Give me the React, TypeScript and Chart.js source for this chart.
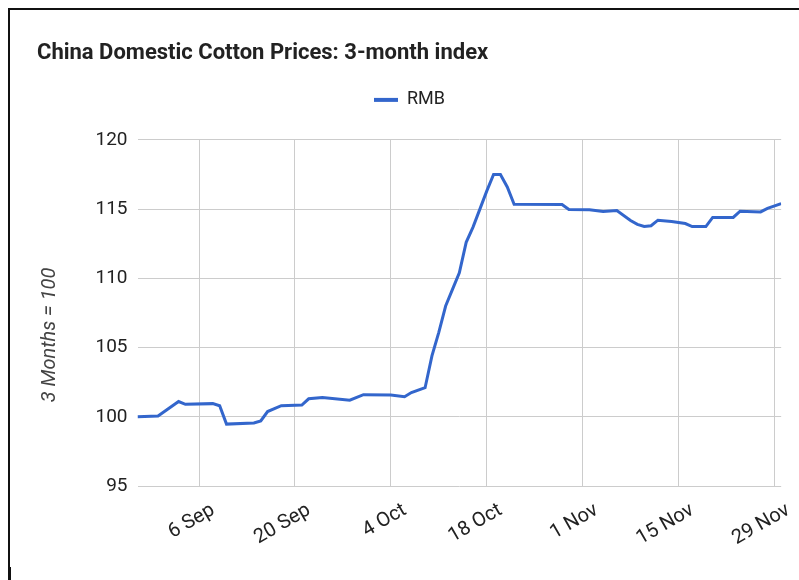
import React, { useEffect, useRef } from 'react';
import { Chart, registerables } from 'chart.js';

Chart.register(...registerables);

const TITLE = 'China Domestic Cotton Prices: 3-month index';
const SERIES_NAME = 'RMB';
const Y_TITLE = '3 Months = 100';

// days counted from 28 Aug
const dayIndex = [
  0, 3, 6, 7, 11, 12, 13, 17, 18, 19, 21, 24, 25, 27, 31, 33, 37, 39, 40, 42,
  43, 44, 45, 46, 47, 48, 49, 50, 51, 52, 53, 54, 55, 62, 63, 66, 68, 70, 72, 73,
  74, 75, 76, 78, 80, 81, 83, 84, 87, 88, 91, 92, 94,
];
const rmbIndex = [
  100.0, 100.05, 101.1, 100.9, 100.95, 100.8, 99.47, 99.55, 99.7, 100.38, 100.8, 100.85, 101.3, 101.4, 101.2, 101.6, 101.57, 101.45, 101.75, 102.1,
  104.4, 106.1, 108.0, 109.2, 110.4, 112.6, 113.7, 115.0, 116.3, 117.5, 117.5, 116.6, 115.35, 115.33, 114.97, 114.95, 114.83, 114.9, 114.18, 113.9,
  113.75, 113.8, 114.2, 114.1, 113.96, 113.74, 113.74, 114.4, 114.4, 114.85, 114.8, 115.05, 115.4,
];

const xMinDay = 0;
const xMaxDay = 94;
const tickDays = [9, 23, 37, 51, 65, 79, 93];
const tickLabels = ['6 Sep', '20 Sep', '4 Oct', '18 Oct', '1 Nov', '15 Nov', '29 Nov'];
const yTicks = [95, 100, 105, 110, 115, 120];

const FONT = 'Roboto';

export default function App() {
  const ref = useRef<HTMLCanvasElement>(null);

  useEffect(() => {
    if (!ref.current) return;
    const legendGap = {
      id: 'legendGap',
      beforeInit(chart: any) {
        const lg = chart.legend;
        if (lg) {
          const fit = lg.fit;
          lg.fit = function () {
            fit.call(this);
            this.height += 21;
          };
        }
      },
    };
    const yTitle = {
      id: 'yTitle',
      afterDraw(chart: any) {
        const ctx = chart.ctx;
        ctx.save();
        ctx.translate(40, 325);
        ctx.rotate(-Math.PI / 2);
        ctx.font = `italic 20px ${FONT}`;
        ctx.fillStyle = '#444444';
        ctx.textAlign = 'center';
        ctx.textBaseline = 'middle';
        ctx.fillText(Y_TITLE, 0, 0);
        ctx.restore();
      },
    };
    const chart = new Chart(ref.current, {
      type: 'line',
      data: {
        datasets: [
          {
            label: SERIES_NAME,
            data: dayIndex.map((d, i) => ({ x: d, y: rmbIndex[i] })),
            borderColor: '#3366cc',
            backgroundColor: '#3366cc',
            borderWidth: 3,
            pointRadius: 0,
            tension: 0,
          },
        ],
      },
      options: {
        animation: false,
        responsive: true,
        maintainAspectRatio: false,
        layout: { padding: { left: 27, right: 17, top: 0, bottom: 0 } },
        plugins: {
          title: {
            display: true,
            text: TITLE,
            align: 'start',
            color: '#222222',
            font: { family: FONT, size: 22, weight: 'bold' },
            padding: { top: 30, bottom: 14.5 },
          },
          legend: {
            display: true,
            position: 'top',
            labels: {
              boxWidth: 24,
              boxHeight: 4,
              color: '#222222',
              font: { family: FONT, size: 18 },
              generateLabels: (c: any) =>
                (Chart.defaults.plugins.legend.labels.generateLabels as any)(c).map((l: any) => ({
                  ...l,
                  lineWidth: 0,
                })),
            },
          },
          tooltip: { enabled: false },
        },
        scales: {
          x: {
            type: 'linear',
            min: xMinDay,
            max: xMaxDay,
            afterBuildTicks: (s: any) => {
              s.ticks = tickDays.map((v) => ({ value: v }));
            },
            afterFit: (s: any) => {
              s.height = 94;
            },
            grid: { color: '#cccccc', drawTicks: false },
            border: { display: false },
            ticks: {
              autoSkip: false,
              minRotation: 30,
              maxRotation: 30,
              padding: 12.5,
              labelOffset: 14,
              color: '#222222',
              font: { family: FONT, size: 20 },
              callback: (v: any) => {
                const i = tickDays.indexOf(Number(v));
                return i >= 0 ? tickLabels[i] : '';
              },
            },
          },
          y: {
            min: 95,
            max: 120,
            afterBuildTicks: (s: any) => {
              s.ticks = yTicks.map((v) => ({ value: v }));
            },
            afterFit: (s: any) => {
              s.width = 100.5;
            },
            grid: { color: '#cccccc', drawTicks: false },
            border: { display: false },
            ticks: {
              padding: 10,
              color: '#222222',
              font: { family: FONT, size: 19 },
            },
          },
        },
      },
      plugins: [legendGap, yTitle],
    } as any);
    return () => chart.destroy();
  }, []);

  return (
    <>
      <div
        style={{
          position: 'fixed',
          top: 8,
          left: 8,
          width: 791,
          height: 572,
          boxSizing: 'border-box',
          borderTop: '2px solid #111',
          borderLeft: '2px solid #111',
          background: '#fff',
        }}
      >
        <div style={{ position: 'relative', width: 789, height: 570 }}>
          <canvas ref={ref} />
        </div>
      </div>
      <div style={{ position: 'fixed', left: 9, top: 567, width: 2, height: 13, background: '#111' }} />
    </>
  );
}
